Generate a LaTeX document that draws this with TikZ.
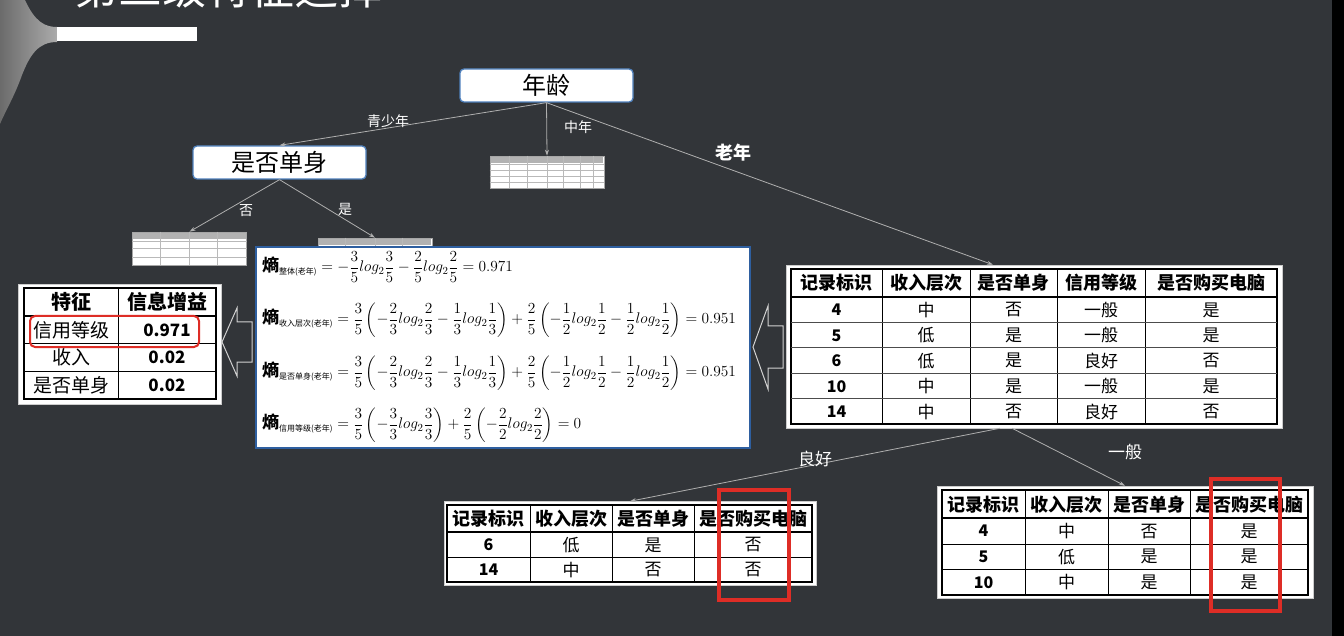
\RequirePackage{fix-cm}
\documentclass[tikz,border=0pt]{standalone}
\usepackage{amsmath}
\usepackage{fontspec}
\setmainfont{Noto Sans CJK SC}
\usepackage{tikz}
\usetikzlibrary{arrows.meta, positioning, calc}
\usepackage{xcolor}

\definecolor{slidebg}{RGB}{50,53,57}
\definecolor{nodeblue}{RGB}{79,129,189}
\definecolor{boxblue}{RGB}{46,95,160}
\definecolor{markred}{RGB}{222,45,38}
\definecolor{linegray}{RGB}{175,175,175}

% tiny unreadable table: node name, inner column lines, inner row lines
\newcommand{\minigrid}[3]{%
  \fill[gray!60] ($(#1.north west)+(1,1)$) rectangle ($(#1.north east)+(-1,7)$);
  \foreach \i in {#2}
    \draw[gray!55, line width=0.4pt] ($(#1.north west)!\i!(#1.north east)$) -- ($(#1.south west)!\i!(#1.south east)$);
  \foreach \j in {#3}
    \draw[gray!55, line width=0.4pt] ($(#1.north west)!\j!(#1.south west)$) -- ($(#1.north east)!\j!(#1.south east)$);
}
\newcommand{\shang}[1]{\text{\bfseries\fontsize{17}{17}\selectfont 熵}_{\mbox{\fontsize{8}{8}\selectfont #1}}}

\begin{document}
\begin{tikzpicture}[x=1pt, y=-1pt,
  tnode/.style={rectangle, draw=nodeblue, line width=1.3pt, fill=white, rounded corners=4pt, minimum width=173pt, minimum height=33pt, font=\fontsize{24}{24}\selectfont},
  edge/.style={draw=linegray, line width=0.8pt, -{Stealth[length=6pt, width=4pt]}},
  elabel/.style={text=white, font=\fontsize{14}{14}\selectfont},
  tabbg/.style={rectangle, fill=white, draw=gray!40, line width=0.5pt, inner sep=0pt},
  mini/.style={rectangle, fill=white, draw=gray!70, line width=0.6pt, inner sep=0pt, minimum width=114pt},
  outer/.style={line width=2.2pt},
  inner/.style={line width=0.7pt},
  head/.style={inner sep=0pt, font=\bfseries\fontsize{18}{18}\selectfont},
  cell/.style={inner sep=0pt, font=\fontsize{17}{17}\selectfont},
  redmark/.style={draw=markred, line width=3.5pt},
  hollow/.style={draw=gray!35, line width=1pt},
  formula/.style={anchor=west, inner sep=0pt, font=\fontsize{15.4}{15.4}\selectfont}
]
  \clip (0,0) rectangle (1344,636);
  \fill[slidebg] (0,0) rectangle (1344,636);
  \fill[black] (1332,0) rectangle (1344,636);

  % Slide decoration and title
  \shade[left color=black!58, right color=black!33] (0,0) -- (25,0) .. controls (35,22) and (45,27) .. (57,27) -- (57,42)
    .. controls (38,42) and (30,55) .. (22,75) .. controls (15,95) and (6,110) .. (0,124) -- cycle;
  \fill[white] (57,27) rectangle (197,41);
  \node[anchor=base west, inner sep=0pt, text=white, font=\fontsize{44}{44}\selectfont] (title) at (74,5) {第三级特征选择};

  % Tree
  \node[tnode] (nianling) at (546.5,85.5) {年龄};
  \node[tnode] (danshen) at (279.5,162.5) {是否单身};

  \node[mini, minimum height=32pt] (midmini) at (547,172) {};
  \minigrid{midmini}{0.17,0.33,0.5,0.64,0.79,0.9}{0.27,0.45,0.63,0.81}
  \node[mini, minimum height=33pt] (leftmini) at (189.5,248.5) {};
  \minigrid{leftmini}{0.24,0.5,0.74}{0.27,0.5,0.75}
  \node[mini, minimum height=33pt] (rightmini) at (375,254.5) {};
  \minigrid{rightmini}{0.24,0.5,0.74}{0.3}

  \draw[edge] (nianling.south) -- (danshen.north);
  \draw[edge] (nianling.south) -- (midmini.north);
  \draw[edge] (danshen.south) -- (leftmini.north);
  \draw[edge] (danshen.south) -- (rightmini.north);

  \node[elabel] at (388,121) {青少年};
  \node[elabel] at (578,127) {中年};
  \node[elabel, font=\bfseries\fontsize{18}{18}\selectfont] at (733,153) {老年};
  \node[elabel] at (246,211) {否};
  \node[elabel] at (345,209) {是};

  % Entropy formulas
  \node[rectangle, draw=boxblue, line width=2.5pt, fill=white, minimum width=494pt, minimum height=201pt] (shangbox) at (503,347.5) {};
  \node[formula] (f1) at (262,267) {$\shang{整体(老年)} = -\dfrac{3}{5}log_2\dfrac{3}{5}-\dfrac{2}{5}log_2\dfrac{2}{5} = 0.971$};
  \node[formula] (f2) at (262,320) {$\shang{收入层次(老年)} = \dfrac{3}{5}\left(-\dfrac{2}{3}log_2\dfrac{2}{3}-\dfrac{1}{3}log_2\dfrac{1}{3}\right)+\dfrac{2}{5}\left(-\dfrac{1}{2}log_2\dfrac{1}{2}-\dfrac{1}{2}log_2\dfrac{1}{2}\right) = 0.951$};
  \node[formula] (f3) at (262,373) {$\shang{是否单身(老年)} = \dfrac{3}{5}\left(-\dfrac{2}{3}log_2\dfrac{2}{3}-\dfrac{1}{3}log_2\dfrac{1}{3}\right)+\dfrac{2}{5}\left(-\dfrac{1}{2}log_2\dfrac{1}{2}-\dfrac{1}{2}log_2\dfrac{1}{2}\right) = 0.951$};
  \node[formula] (f4) at (262,425) {$\shang{信用等级(老年)} = \dfrac{3}{5}\left(-\dfrac{3}{3}log_2\dfrac{3}{3}\right)+\dfrac{2}{5}\left(-\dfrac{2}{2}log_2\dfrac{2}{2}\right) = 0$};

  % Old-age records
  \node[tabbg, minimum width=496pt, minimum height=163pt] (laotab) at (1034,346.5) {};
  \draw[outer] (791,269) rectangle (1277,424);
  \foreach \x in {882,970,1057,1145} \draw[inner] (\x,269) -- (\x,424);
  \foreach \y in {322.4,347.8,373.2,398.6} \draw[inner, black!70] (791,\y) -- (1277,\y);
  \draw[line width=2.5pt] (791,297) -- (1277,297);
  \foreach \t/\x in {记录标识/836.5, 收入层次/926, 是否单身/1013.5, 信用等级/1101, 是否购买电脑/1211}
    \node[head] at (\x,283) {\t};
  \foreach \a/\b/\c/\d/\e [count=\r] in {4/中/否/一般/是, 5/低/是/一般/是, 6/低/是/良好/否, 10/中/是/一般/是, 14/中/否/良好/否} {
    \node[cell, font=\bfseries\fontsize{16}{16}\selectfont] at (836.5,284.6+25.4*\r) {\a};
    \node[cell] at (926,284.6+25.4*\r) {\b};
    \node[cell] at (1013.5,284.6+25.4*\r) {\c};
    \node[cell] at (1101,284.6+25.4*\r) {\d};
    \node[cell] at (1211,284.6+25.4*\r) {\e};
  }

  % Information gain
  \node[tabbg, minimum width=203pt, minimum height=120pt] (gaintab) at (119.5,344) {};
  \draw[outer] (24,288) rectangle (216,399);
  \draw[inner] (118,288) -- (118,399);
  \draw[line width=1.6pt] (24,316) -- (216,316);
  \foreach \y in {343.5,371} \draw[inner] (24,\y) -- (216,\y);
  \node[head, font=\bfseries\fontsize{20}{20}\selectfont] at (71,302) {特征};
  \node[head, font=\bfseries\fontsize{20}{20}\selectfont] at (167,302) {信息增益};
  \foreach \f/\g [count=\r] in {信用等级/0.971, 收入/0.02, 是否单身/0.02} {
    \node[cell, font=\fontsize{19}{19}\selectfont] at (71,302.5+27.5*\r) {\f};
    \node[cell, font=\bfseries\fontsize{17}{17}\selectfont] at (167,302.5+27.5*\r) {\g};
  }
  \draw[draw=markred, line width=2pt, rounded corners=5pt] (30,316) rectangle (199,347);

  % Hollow arrows
  \draw[hollow] (222,342) -- (237,308) -- (237,322) -- (252,322) -- (252,362) -- (237,362) -- (237,376) -- cycle;
  \draw[hollow] (753,347) -- (768,306) -- (768,326) -- (783,326) -- (783,368) -- (768,368) -- (768,389) -- cycle;

  % Good credit
  \node[tabbg, minimum width=372pt, minimum height=84pt] (liangtab) at (630,543.5) {};
  \draw[outer] (447,505) rectangle (812,582);
  \foreach \x in {530,612,694} \draw[inner] (\x,505) -- (\x,582);
  \draw[line width=2.5pt] (447,532) -- (812,532);
  \draw[inner] (447,557) -- (812,557);
  \foreach \t/\x in {记录标识/488.5, 收入层次/571, 是否单身/653, 是否购买电脑/753}
    \node[head] at (\x,519) {\t};
  \foreach \a/\b/\c/\d [count=\r] in {6/低/是/否, 14/中/否/否} {
    \node[cell, font=\bfseries\fontsize{16}{16}\selectfont] at (488.5,520+25*\r) {\a};
    \node[cell] at (571,520+25*\r) {\b};
    \node[cell] at (653,520+25*\r) {\c};
    \node[cell] at (753,520+25*\r) {\d};
  }

  % Normal credit
  \node[tabbg, minimum width=376pt, minimum height=112pt] (yibantab) at (1125,542) {};
  \draw[outer] (942,490) rectangle (1308,595);
  \foreach \x in {1025,1108,1190} \draw[inner] (\x,490) -- (\x,595);
  \draw[line width=2.5pt] (942,518) -- (1308,518);
  \foreach \y in {544,569.5} \draw[inner] (942,\y) -- (1308,\y);
  \foreach \t/\x in {记录标识/983.5, 收入层次/1066.5, 是否单身/1149, 是否购买电脑/1249}
    \node[head] at (\x,505) {\t};
  \foreach \a/\b/\c/\d [count=\r] in {4/中/否/是, 5/低/是/是, 10/中/是/是} {
    \node[cell, font=\bfseries\fontsize{16}{16}\selectfont] at (983.5,505.5+25.6*\r) {\a};
    \node[cell] at (1066.5,505.5+25.6*\r) {\b};
    \node[cell] at (1149,505.5+25.6*\r) {\c};
    \node[cell] at (1249,505.5+25.6*\r) {\d};
  }

  \draw[redmark] (719,490) rectangle (789,600);
  \draw[redmark] (1211,479) rectangle (1280,611);

  \draw[edge] (nianling.south) -- ([xshift=-41pt]laotab.north);
  \draw[edge] ([xshift=-34pt]laotab.south) -- (liangtab.north);
  \draw[edge] ([xshift=-22pt]laotab.south) -- (yibantab.north);
  \node[elabel, font=\fontsize{17}{17}\selectfont] at (815,459) {良好};
  \node[elabel, font=\fontsize{17}{17}\selectfont] at (1125,452) {一般};
\end{tikzpicture}
\end{document}
